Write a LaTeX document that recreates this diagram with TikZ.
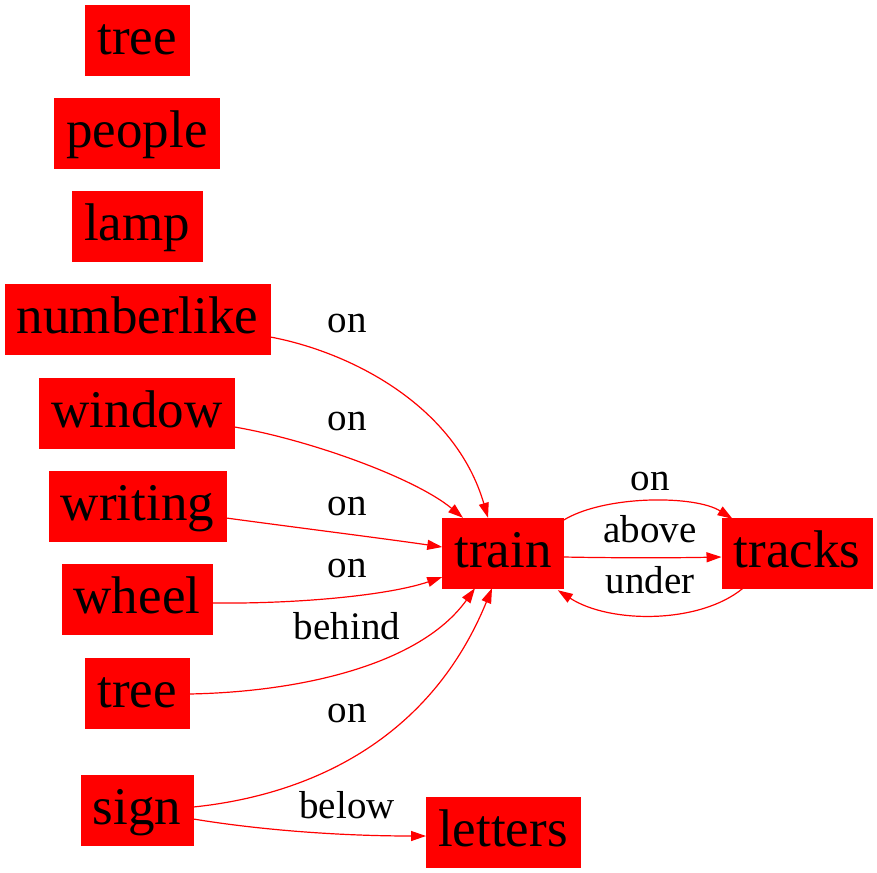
\documentclass[tikz,border=0pt]{standalone}
\usepackage{fontspec}
\setmainfont{Liberation Serif}
\usetikzlibrary{arrows.meta,calc}
\definecolor{gvred}{RGB}{255,0,0}
\tikzset{
  obj/.style={rectangle, fill=gvred, draw=gvred, text=black,
    font=\fontsize{53bp}{60bp}\selectfont, inner xsep=12bp, inner ysep=9bp,
    text height=40bp, text depth=12bp},
  rel/.style={draw=gvred, line width=1.2bp, -{Triangle[length=15bp,width=10bp]}},
  lbl/.style={anchor=base, inner sep=0pt, text=black, font=\fontsize{39bp}{44bp}\selectfont}
}
\begin{document}
\begin{tikzpicture}[x=1bp,y=-1bp]
\useasboundingbox (0,0) rectangle (877,873);
\node[obj] (tree1) at (137,40) {tree};
\node[obj] (people) at (137,133) {people};
\node[obj] (lamp) at (137,226) {lamp};
\node[obj] (numberlike) at (137.5,319) {numberlike};
\node[obj] (window) at (137,413) {window};
\node[obj] (writing) at (137.5,506) {writing};
\node[obj] (wheel) at (137,599.5) {wheel};
\node[obj] (tree2) at (137,693) {tree};
\node[obj] (sign) at (137,810) {sign};
\node[obj] (train) at (503,553) {train};
\node[obj] (tracks) at (797,553) {tracks};
\node[obj] (letters) at (503,832.5) {letters};

\draw[rel] ($(numberlike.east)+(0,18)$) .. controls (350,352) and (455,405) .. ($(train.north)+(-15,0)$);
\draw[rel] ($(window.east)+(0,14)$) .. controls (310,440) and (415,478) .. ($(train.north)+(-40,0)$);
\draw[rel] ($(writing.east)+(0,12)$) .. controls (300,528) and (380,538) .. ($(train.west)+(0,-6)$);
\draw[rel] ($(wheel.east)+(0,3.5)$) .. controls (300,604) and (390,595) .. ($(train.west)+(0,24)$);
\draw[rel] ($(tree2.east)+(0,1)$) .. controls (300,692) and (420,665) .. ($(train.south)+(-28,0)$);
\draw[rel] ($(sign.east)+(0,-3)$) .. controls (310,795) and (430,740) .. ($(train.south)+(-11,0)$);
\draw[rel] ($(sign.east)+(0,9)$) .. controls (260,830) and (340,836) .. ($(letters.west)+(0,3.5)$);
\draw[rel] ($(train.east)+(0,-33)$) .. controls (605,495) and (695,495) .. ($(tracks.north west)+(11,1)$);
\draw[rel] ($(train.east)+(0,4)$) .. controls (615,558) and (670,558) .. ($(tracks.west)+(0,4)$);
\draw[rel] ($(tracks.south)+(-54,0)$) .. controls (700,624) and (610,624) .. ($(train.south east)+(-6,2)$);

\node[lbl] (l1) at (347,332) {on};
\node[lbl] (l2) at (347,430) {on};
\node[lbl] (l3) at (347,515) {on};
\node[lbl] (l4) at (347,577) {on};
\node[lbl] (l5) at (347,639) {behind};
\node[lbl] (l6) at (347,722) {on};
\node[lbl] (l7) at (347,818) {below};
\node[lbl] (l8) at (650,490) {on};
\node[lbl] (l9) at (650,542) {above};
\node[lbl] (l10) at (650,593) {under};
\end{tikzpicture}
\end{document}
